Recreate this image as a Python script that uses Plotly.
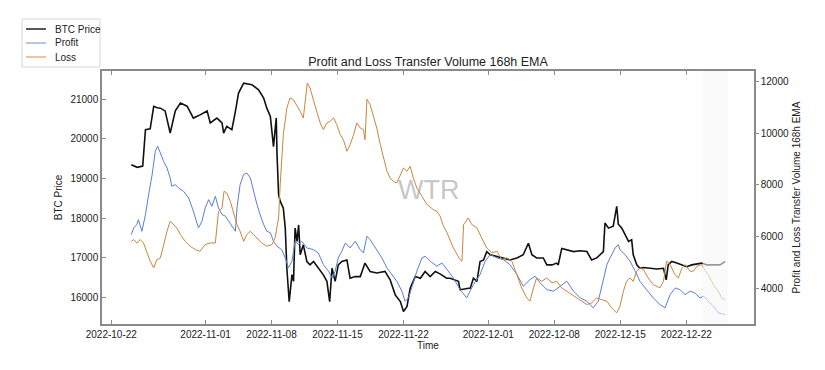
import pandas as pd
import plotly.graph_objects as go

YEAR = "2022-"

btc_time = ["10-24 03:00","10-24 18:00","10-25 08:00","10-25 15:00","10-26 03:00","10-26 12:00","10-26 21:00",
"10-27 05:00","10-27 17:00","10-28 06:00","10-28 19:00","10-29 08:00","10-30 01:00","10-30 17:00","10-31 10:00",
"11-01 04:00","11-01 12:00","11-02 05:00","11-02 18:00","11-02 22:00","11-03 06:00","11-03 19:00","11-04 04:00",
"11-04 12:00","11-05 01:00","11-05 22:00","11-06 15:00","11-07 04:00","11-07 12:00","11-07 21:00","11-08 05:00",
"11-08 12:00","11-08 14:00","11-08 18:00","11-08 22:00","11-09 06:00","11-09 11:00","11-09 15:00","11-09 21:00",
"11-10 04:00","11-10 08:00","11-10 12:00","11-10 17:00","11-10 21:00","11-11 01:00","11-11 09:00","11-11 18:00",
"11-12 02:00","11-12 11:00","11-12 23:00","11-13 12:00","11-13 21:00","11-14 04:00","11-14 10:00","11-14 18:00",
"11-15 02:00","11-15 11:00","11-16 00:00","11-16 08:00","11-16 21:00","11-17 10:00","11-17 22:00","11-18 11:00",
"11-19 04:00","11-20 01:00","11-20 14:00","11-21 03:00","11-21 16:00","11-22 00:00","11-22 09:00","11-22 17:00",
"11-23 06:00","11-23 19:00","11-24 07:00","11-24 20:00","11-25 09:00","11-25 21:00","11-26 14:00","11-26 23:00",
"11-27 20:00","11-28 00:00","11-29 02:00","11-29 10:00","11-29 19:00","11-30 03:00","11-30 12:00","11-30 20:00",
"12-01 05:00","12-01 22:00","12-02 14:00","12-03 07:00","12-04 01:00","12-04 17:00","12-05 06:00","12-05 15:00",
"12-06 03:00","12-06 20:00","12-07 05:00","12-07 18:00","12-08 06:00","12-08 10:00","12-08 19:00","12-09 08:00",
"12-10 01:00","12-10 18:00","12-11 11:00","12-11 23:00","12-12 12:00","12-13 05:00","12-13 09:00","12-13 18:00",
"12-14 06:00","12-14 15:00","12-14 19:00","12-15 04:00","12-15 12:00","12-15 21:00","12-16 05:00","12-16 09:00",
"12-16 18:00","12-17 02:00","12-17 11:00","12-18 04:00","12-18 21:00","12-19 14:00","12-19 21:00","12-20 02:00",
"12-20 11:00","12-21 00:00","12-21 13:00","12-22 01:00","12-22 14:00","12-23 03:00","12-23 15:00","12-24 04:00",
"12-24 21:00","12-25 14:00","12-26 03:00"]
btc_price = [19345,19280,19310,20230,20250,20815,20780,
20770,20700,20145,20700,20900,20820,20520,20600,
20700,20400,20520,20400,20140,20310,20230,20690,
21150,21400,21360,21230,21025,20770,20560,19800,
20520,19600,18590,18430,18250,17750,16740,15900,
16580,16410,17750,17415,17830,17080,17330,16910,
16825,16910,16740,16575,16410,15900,16740,16410,
16825,16910,16950,16490,16530,16530,16870,16660,
16620,16660,16450,16070,15900,15650,15780,16240,
16530,16490,16660,16530,16660,16600,16490,16490,
16410,16200,16240,16490,16410,16910,16950,17160,
17080,17040,17000,16950,17000,17080,17370,17080,
17000,17000,16825,16825,16870,16825,17240,17205,
17160,17180,17160,16950,17000,17160,17880,17750,
17800,18300,17850,17750,17580,17415,17455,17080,
16825,16740,16760,16740,16720,16740,16450,16825,
16910,16870,16825,16780,16825,16840,16870,16825,
16825,16825,16910]

profit_time = ["10-24 03:00","10-24 09:00","10-24 17:00","10-24 21:00","10-25 06:00","10-25 15:00","10-25 23:00",
"10-26 08:00","10-26 16:00","10-26 22:00","10-27 05:00","10-27 13:00","10-27 22:00","10-28 06:00","10-28 10:00",
"10-28 19:00","10-29 03:00","10-29 16:00","10-30 05:00","10-30 17:00","10-31 06:00","10-31 15:00","10-31 23:00",
"11-01 08:00","11-01 16:00","11-02 01:00","11-02 09:00","11-02 18:00","11-03 02:00","11-03 11:00","11-03 19:00",
"11-04 04:00","11-04 08:00","11-04 16:00","11-05 01:00","11-05 09:00","11-05 18:00","11-06 02:00","11-06 11:00",
"11-06 19:00","11-07 04:00","11-07 12:00","11-07 21:00","11-08 05:00","11-08 14:00","11-09 02:00","11-09 11:00",
"11-09 19:00","11-10 04:00","11-10 12:00","11-10 21:00","11-11 05:00","11-11 18:00","11-12 11:00","11-12 23:00",
"11-13 12:00","11-14 01:00","11-14 10:00","11-14 18:00","11-15 02:00","11-15 11:00","11-15 20:00","11-16 08:00",
"11-16 21:00","11-17 10:00","11-17 18:00","11-18 03:00","11-18 11:00","11-19 00:00","11-19 17:00","11-20 06:00",
"11-20 18:00","11-21 07:00","11-21 20:00","11-22 04:00","11-22 13:00","11-22 21:00","11-23 10:00","11-23 23:00",
"11-24 07:00","11-24 20:00","11-25 13:00","11-26 02:00","11-26 14:00","11-27 07:00","11-28 00:00","11-28 17:00",
"11-29 10:00","11-30 03:00","11-30 16:00","12-01 05:00","12-01 22:00","12-02 14:00","12-03 07:00","12-04 01:00",
"12-04 17:00","12-05 10:00","12-05 23:00","12-06 12:00","12-07 05:00","12-07 22:00","12-08 15:00","12-09 08:00",
"12-10 01:00","12-10 18:00","12-11 11:00","12-12 03:00","12-12 16:00","12-13 05:00","12-13 14:00","12-13 22:00",
"12-14 11:00","12-14 19:00","12-14 23:00","12-15 12:00","12-16 01:00","12-16 14:00","12-17 02:00","12-17 19:00",
"12-18 12:00","12-19 05:00","12-19 18:00","12-20 07:00","12-20 20:00","12-21 08:00","12-21 21:00","12-22 10:00",
"12-22 22:00","12-23 11:00","12-23 20:00","12-24 08:00","12-24 21:00","12-25 10:00","12-26 03:00"]
profit_volume = [6077,6336,6464,6658,6208,6851,7625,
8400,9305,9499,9240,8918,8659,8272,7950,
8013,7885,7757,7497,6983,6336,6596,7110,
7432,7176,7563,7110,6851,6801,6596,6402,
6208,7110,8013,8400,8465,8272,7757,7238,
6851,6464,6208,6150,5821,5628,5496,5175,
4787,5047,5821,5690,5821,5562,5496,5368,
4916,4660,4400,4660,5175,5434,5756,5562,
5821,5496,5368,6015,5883,5562,5175,4787,
4530,4272,3885,3498,3626,4013,4660,5175,
5240,5047,4853,4980,4722,4400,3947,3626,
4142,4530,5047,5304,5175,5110,4916,4530,
4079,4335,4466,4207,3947,3885,4079,4272,
3885,3626,3498,3240,3498,4272,4916,5175,
5562,5690,5496,5304,5047,4660,4272,3947,
3626,3369,3240,3755,4013,3947,3755,3885,
3820,3626,3690,3498,3304,3046,2980]

loss_time = ["10-24 03:00","10-24 09:00","10-24 17:00","10-25 02:00","10-25 10:00","10-25 19:00","10-26 03:00",
"10-26 12:00","10-26 20:00","10-27 05:00","10-27 13:00","10-27 22:00","10-28 06:00","10-28 15:00","10-28 23:00",
"10-29 08:00","10-29 20:00","10-30 09:00","10-30 22:00","10-31 10:00","10-31 23:00","11-01 12:00","11-02 01:00",
"11-02 09:00","11-02 18:00","11-02 23:00","11-03 06:00","11-03 15:00","11-03 23:00","11-04 08:00","11-04 16:00",
"11-05 01:00","11-05 09:00","11-05 18:00","11-06 02:00","11-06 11:00","11-06 23:00","11-07 12:00","11-08 01:00",
"11-08 09:00","11-08 18:00","11-08 22:00","11-09 06:00","11-09 15:00","11-09 23:00","11-10 08:00","11-10 16:00",
"11-11 01:00","11-11 09:00","11-11 14:00","11-11 19:00","11-12 02:00","11-12 11:00","11-12 19:00","11-13 04:00",
"11-13 12:00","11-13 21:00","11-14 05:00","11-14 14:00","11-14 22:00","11-15 07:00","11-15 15:00","11-16 00:00",
"11-16 08:00","11-16 17:00","11-17 01:00","11-17 10:00","11-17 18:00","11-17 22:00","11-18 03:00","11-18 11:00",
"11-18 20:00","11-19 04:00","11-19 13:00","11-19 21:00","11-20 06:00","11-20 14:00","11-20 22:00","11-21 07:00",
"11-21 16:00","11-22 00:00","11-22 09:00","11-22 17:00","11-23 01:00","11-23 10:00","11-23 23:00","11-24 12:00",
"11-25 04:00","11-25 13:00","11-25 21:00","11-26 06:00","11-26 14:00","11-27 07:00","11-28 00:00","11-28 05:00",
"11-28 09:00","11-28 21:00","11-29 06:00","11-29 19:00","11-30 07:00","11-30 20:00","12-01 09:00","12-01 22:00",
"12-02 10:00","12-02 23:00","12-03 12:00","12-04 01:00","12-04 13:00","12-05 02:00","12-05 10:00","12-05 19:00",
"12-06 03:00","12-06 16:00","12-07 05:00","12-07 18:00","12-08 06:00","12-08 19:00","12-09 08:00","12-09 20:00",
"12-10 09:00","12-10 22:00","12-11 11:00","12-11 23:00","12-12 12:00","12-13 01:00","12-13 14:00","12-14 02:00",
"12-14 15:00","12-14 23:00","12-15 08:00","12-15 16:00","12-16 01:00","12-16 09:00","12-16 18:00","12-17 02:00",
"12-17 11:00","12-17 23:00","12-18 12:00","12-19 05:00","12-19 14:00","12-19 22:00","12-20 07:00","12-20 19:00",
"12-21 04:00","12-21 13:00","12-21 21:00","12-22 10:00","12-22 18:00","12-23 03:00","12-23 15:00","12-23 20:00",
"12-24 08:00","12-24 21:00","12-25 10:00","12-25 18:00","12-26 03:00"]
loss_volume = [5821,5885,5755,5885,5755,5368,5047,
4787,5110,5175,5690,6208,6596,6464,6336,
6077,5821,5628,5496,5434,5690,5755,5755,
6983,7110,7757,7690,7368,6983,6464,6208,
5821,6077,6208,6077,5950,5755,5628,5690,
5950,6723,8000,9950,10982,11369,11300,11110,
10853,10595,11240,11950,11756,11240,10853,10400,
10142,10400,10465,10595,10336,9950,9757,9305,
9563,9950,10400,10207,10142,9757,11318,11110,
10660,10207,9563,9046,8530,8272,8143,8078,
8400,8659,8530,8723,8272,7885,7563,7238,
7046,6983,6800,6400,6180,5562,5110,5047,
6464,6723,6464,6336,5950,5562,5368,5434,
5110,5175,5047,4530,4013,3626,3498,4013,
4400,4272,4400,4207,4272,4013,3885,3755,
3626,3498,3369,3433,3626,3560,3498,3240,
3046,3300,3885,4272,4400,4272,4660,4787,
4723,4400,4142,4013,4272,5047,4916,4530,
4400,4787,4916,4660,4660,4853,4916,4787,
4530,4142,3885,3626,3560]

series_names = ["BTC Price", "Profit", "Loss"]
x_tick_labels = ["2022-10-22","2022-11-01","2022-11-08","2022-11-15","2022-11-22",
                 "2022-12-01","2022-12-08","2022-12-15","2022-12-22"]
left_ticks = [16000, 17000, 18000, 19000, 20000, 21000]
right_ticks = [4000, 6000, 8000, 10000, 12000]

def to_dt(lst):
    return pd.to_datetime([YEAR + s for s in lst])

FONT = "Liberation Sans, Arial, sans-serif"
TXT = "#222222"
SPINE = "#8a8a8a"
COLORS = ["#111111", "#5a7ed6", "#c98640"]

# The page body has an 8px default margin, so the figure is drawn 8px in from the window edge.
OFF = 8
W, H = 825 - OFF, 370 - OFF
ML, MT = 102 - OFF, 71 - OFF
PW, PH = 652, 253
MR, MB = W - ML - PW, H - MT - PH
# page-pixel -> paper coordinates (used only to place the hand-drawn legend)
def px(x):
    return (x - OFF - ML) / PW
def py(y):
    return (H - MB - (y - OFF)) / PH

fig = go.Figure()
fig.add_trace(go.Scatter(x=to_dt(btc_time), y=btc_price, name=series_names[0], mode="lines",
                         line=dict(color=COLORS[0], width=1.6), yaxis="y"))
fig.add_trace(go.Scatter(x=to_dt(profit_time), y=profit_volume, name=series_names[1], mode="lines",
                         line=dict(color=COLORS[1], width=1), yaxis="y2"))
fig.add_trace(go.Scatter(x=to_dt(loss_time), y=loss_volume, name=series_names[2], mode="lines",
                         line=dict(color=COLORS[2], width=1), yaxis="y2"))

fig.add_vrect(x0="2022-12-23 18:00", x1="2022-12-26 10:00", fillcolor="rgba(246,246,246,0.6)",
              line_width=0, layer="above")

fig.add_annotation(text="WTR", x=0.5, y=0.53, xref="paper", yref="paper", showarrow=False,
                   font=dict(family=FONT, size=27, color="rgba(150,150,150,0.55)"))

# legend box (drawn by hand to match matplotlib's compact legend)
fig.add_shape(type="rect", xref="paper", yref="paper", x0=px(22), x1=px(100), y0=py(67), y1=py(19),
              line=dict(color="#d6d6d6", width=1), fillcolor="white", layer="above")
legend_rows = [29, 43, 57]
legend_line_colors = ["#222222", "#9fb4de", "#e0b48c"]
for name, row, col in zip(series_names, legend_rows, legend_line_colors):
    fig.add_shape(type="line", xref="paper", yref="paper", x0=px(26), x1=px(46), y0=py(row), y1=py(row),
                  line=dict(color=col, width=1.5), layer="above")
    fig.add_annotation(text=name, xref="paper", yref="paper", x=px(53), y=py(row), xanchor="left",
                       yanchor="middle", showarrow=False, font=dict(family=FONT, size=10, color=TXT))

fig.update_layout(
    width=W, height=H,
    margin=dict(l=ML, r=MR, t=MT, b=MB, autoexpand=False),
    paper_bgcolor="white", plot_bgcolor="white",
    font=dict(family=FONT, size=10, color=TXT),
    title=dict(text="Profit and Loss Transfer Volume 168h EMA", x=0.5, xref="paper", xanchor="center",
               y=1 - (62 - OFF) / H, yref="container", yanchor="middle",
               font=dict(family=FONT, size=12.5, color=TXT)),
    showlegend=False,
    xaxis=dict(
        type="date", range=["2022-10-21 00:20", "2022-12-29 04:30"],
        tickvals=pd.to_datetime(x_tick_labels), ticktext=x_tick_labels,
        ticks="inside", ticklen=4, tickcolor=SPINE, mirror="ticks",
        showline=True, linecolor=SPINE, linewidth=1.5, showgrid=False, zeroline=False,
        title=dict(text="Time", standoff=3, font=dict(size=10)),
        tickfont=dict(size=10), automargin=False,
    ),
    yaxis=dict(
        range=[15337, 21705], tickvals=left_ticks, tickformat="d", ticks="inside", ticklen=4, tickcolor=SPINE,
        showline=True, linecolor=SPINE, linewidth=1.5, showgrid=False, zeroline=False,
        title=dict(text="BTC Price", standoff=6, font=dict(size=10)), tickfont=dict(size=10), automargin=False,
    ),
    yaxis2=dict(
        range=[2616, 12414], tickvals=right_ticks, tickformat="d", overlaying="y", side="right",
        ticks="outside", ticklen=3, tickcolor=SPINE,
        showline=True, linecolor=SPINE, linewidth=1.5, showgrid=False, zeroline=False,
        title=dict(text="Profit and Loss Transfer Volume 168h EMA", standoff=5, font=dict(size=10)),
        tickfont=dict(size=10), automargin=False,
    ),
)

fig.write_html("out.html")
